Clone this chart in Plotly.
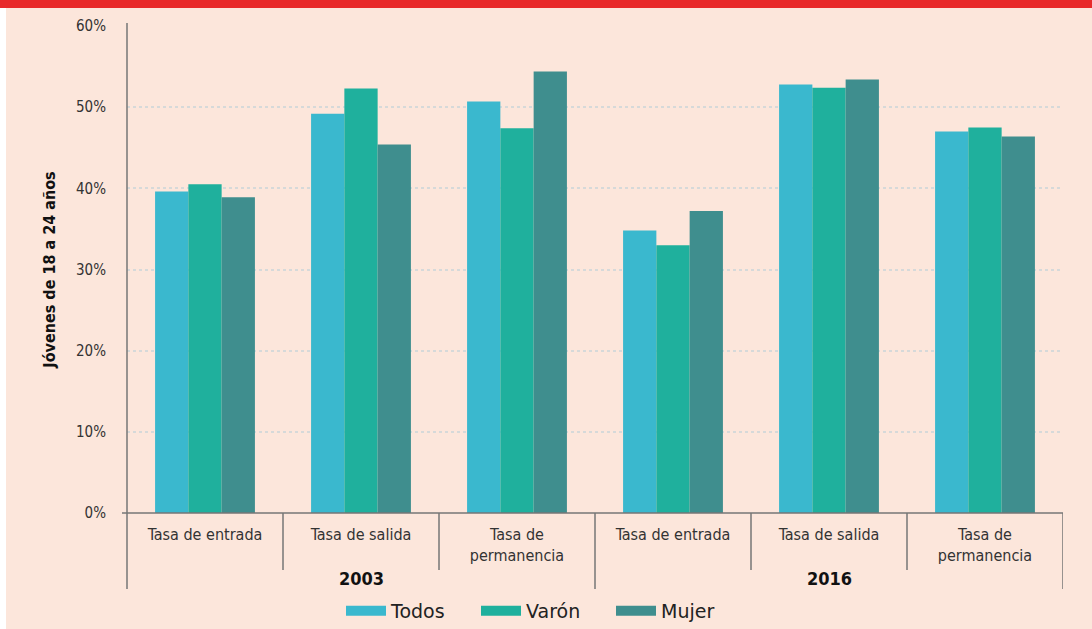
import plotly.graph_objects as go

# Categories: two survey years, three rates each
years = ["2003", "2016"]
rates = ["Tasa de entrada", "Tasa de salida", "Tasa de<br>permanencia"]
tick_labels = rates + rates

series_names = ["Todos", "Varón", "Mujer"]
todos = [39.6, 49.2, 50.7, 34.8, 52.8, 47.0]
varon = [40.5, 52.3, 47.4, 33.0, 52.4, 47.5]
mujer = [38.9, 45.4, 54.4, 37.2, 53.4, 46.4]
series_values = [todos, varon, mujer]

y_ticks = [0, 10, 20, 30, 40, 50, 60]
y_tick_text = [f"{v}%" for v in y_ticks]

colors = ["#3AB8CE", "#1FB09D", "#3F8E8E"]
bg = "#FCE6DB"
axis_col = "#767676"
font_narrow = "Liberation Sans Narrow, DejaVu Sans Condensed, Arial Narrow, sans-serif"

x_pos = list(range(len(tick_labels)))

fig = go.Figure()
for name, vals, col in zip(series_names, series_values, colors):
    fig.add_trace(go.Bar(x=x_pos, y=vals, name=name, marker_color=col,
                         marker_line_width=0, showlegend=False,
                         legendgroup=name))
# Wide legend swatches
for name, col in zip(series_names, colors):
    fig.add_trace(go.Scatter(x=[None], y=[None], mode="lines", name=name,
                             line=dict(color=col, width=10), legendgroup=name))

plot_l, plot_r, plot_t, plot_b = 127, 1063, 26, 513
H = plot_b - plot_t
W = plot_r - plot_l

def py(px):
    return (plot_b - px) / H

def px_x(px):
    return (px - plot_l) / W

shapes = []
# white strip on the left edge and red band on top
shapes.append(dict(type="rect", xref="paper", yref="paper", x0=px_x(-2), x1=px_x(6),
                   y0=py(640), y1=py(-2), fillcolor="white", line_width=0, layer="below"))
shapes.append(dict(type="rect", xref="paper", yref="paper", x0=px_x(-2), x1=px_x(1100),
                   y0=py(8), y1=py(-2), fillcolor="#E8292A", line_width=0, layer="above"))
# axis lines
shapes.append(dict(type="line", xref="paper", yref="paper", x0=px_x(122), x1=1,
                   y0=0, y1=0, line=dict(color=axis_col, width=1.5)))
shapes.append(dict(type="line", xref="paper", yref="paper", x0=0, x1=0,
                   y0=py(589), y1=py(23), line=dict(color=axis_col, width=1.5)))
# dividers between rates and between years
n_per_year = len(rates)
for i in range(len(tick_labels) + 1):
    xb = i - 0.5
    if i % n_per_year == 0:
        if i == 0:
            continue
        y_end = py(589)
    else:
        y_end = py(570)
    shapes.append(dict(type="line", xref="x", yref="paper", x0=xb, x1=xb,
                       y0=0, y1=y_end, line=dict(color=axis_col, width=1.5)))

annotations = []
for k, yr in enumerate(years):
    annotations.append(dict(x=k * n_per_year + 1, y=py(578), xref="x", yref="paper",
                            text="<b>" + yr + "</b>", showarrow=False,
                            font=dict(family=font_narrow, size=18, color="#111"),
                            xanchor="center", yanchor="middle"))

fig.update_layout(
    width=1092, height=629,
    margin=dict(l=plot_l, r=1092 - plot_r, t=plot_t, b=629 - plot_b, autoexpand=False),
    paper_bgcolor=bg, plot_bgcolor=bg,
    barmode="group", bargap=0.36, bargroupgap=0,
    shapes=shapes, annotations=annotations,
    font=dict(family=font_narrow, size=16, color="#333"),
    legend=dict(orientation="h", x=px_x(341), xanchor="left",
                yref="container", y=1 - 611 / 629, yanchor="middle",
                font=dict(family="DejaVu Sans", size=19, color="#222"),
                entrywidth=80, entrywidthmode="pixels", itemwidth=40,
                bgcolor="rgba(0,0,0,0)"),
    xaxis=dict(range=[-0.5, len(tick_labels) - 0.5], tickvals=x_pos, ticktext=tick_labels,
               showgrid=False, zeroline=False, showline=False, automargin=False,
               ticks="outside", ticklen=7, tickcolor="rgba(0,0,0,0)",
               tickfont=dict(family=font_narrow, size=16, color="#333")),
    yaxis=dict(range=[0, 60], tickmode="array", tickvals=y_ticks, ticktext=y_tick_text,
               showgrid=True, gridcolor="#D6D9D9", griddash="dot", gridwidth=2,
               zeroline=False, showline=False, automargin=False,
               ticks="outside", ticklen=17, tickcolor="rgba(0,0,0,0)",
               tickfont=dict(family=font_narrow, size=15, color="#333"),
               title=dict(text="<b>Jóvenes de 18 a 24 años</b>", standoff=16,
                          font=dict(family=font_narrow, size=16, color="#111"))),
)

fig.write_html("out.html")
